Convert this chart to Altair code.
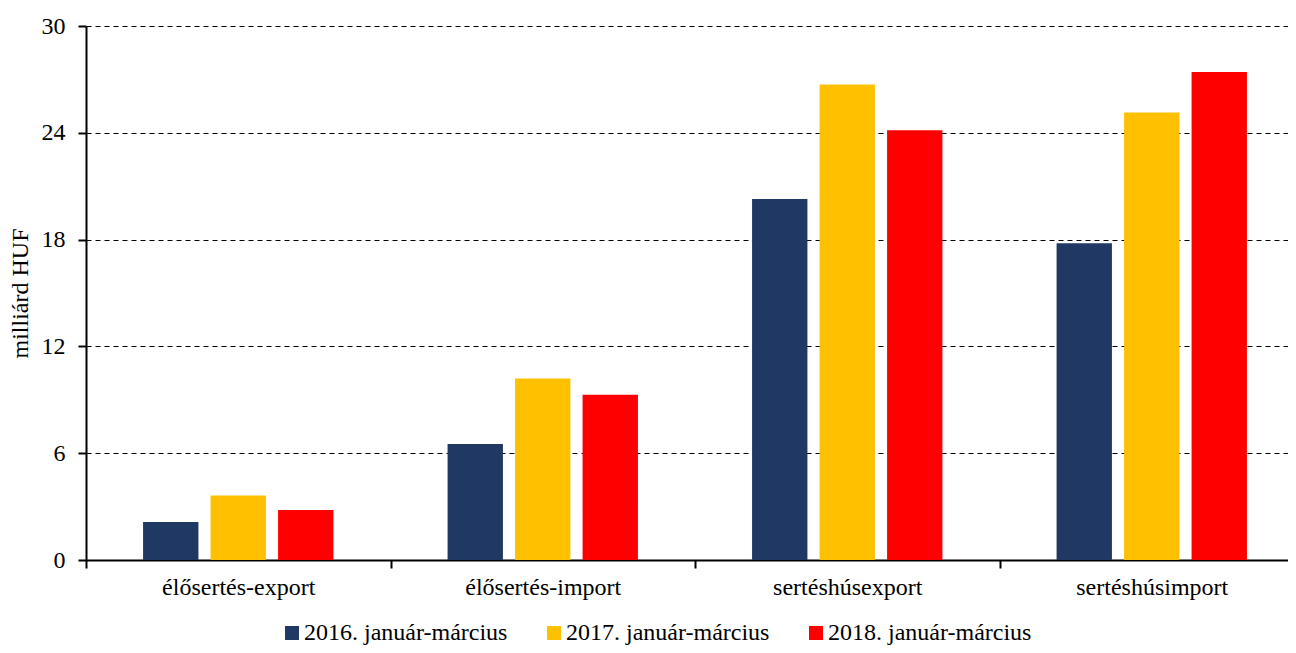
import altair as alt
import pandas as pd

categories = ["élősertés-export", "élősertés-import", "sertéshúsexport", "sertéshúsimport"]
series = ["2016. január-március", "2017. január-március", "2018. január-március"]
v2016 = [2.14, 6.52, 20.28, 17.80]
v2017 = [3.63, 10.19, 26.72, 25.14]
v2018 = [2.81, 9.29, 24.14, 27.42]
colors = ["#203864", "#FFC000", "#FF0000"]
y_ticks = [0, 6, 12, 18, 24, 30]

rows = []
for s, vals in zip(series, [v2016, v2017, v2018]):
    for c, v in zip(categories, vals):
        rows.append({"kategória": c, "időszak": s, "érték": v})
df = pd.DataFrame(rows)

FONT = "Liberation Serif"
FS = 24

chart = alt.Chart(df).mark_bar().encode(
    x=alt.X("kategória:N", sort=categories,
            scale=alt.Scale(paddingInner=0, paddingOuter=0, range=[0, 1218]),
            axis=alt.Axis(title=None, labelAngle=0, tickBand="extent", grid=False,
                          domainColor="black", domainWidth=2, tickColor="black",
                          tickWidth=2, tickSize=8, labelPadding=7,
                          labelFont=FONT, labelFontSize=FS, labelColor="black")),
    xOffset=alt.XOffset("időszak:N", sort=series,
                        scale=alt.Scale(paddingInner=0.18, paddingOuter=0.8456)),
    y=alt.Y("érték:Q", scale=alt.Scale(domain=[0, 30], nice=False),
            axis=alt.Axis(title="milliárd HUF", values=y_ticks, grid=True,
                          gridColor="black", gridDash=[5, 4], gridWidth=1,
                          domainColor="black", domainWidth=2, tickColor="black",
                          tickWidth=2, tickSize=8, labelPadding=13,
                          labelFont=FONT, labelFontSize=FS, labelColor="black",
                          titleFont=FONT, titleFontSize=FS, titleFontWeight="normal",
                          titleColor="black", titlePadding=9)),
    color=alt.Color("időszak:N", sort=series,
                    scale=alt.Scale(domain=series, range=colors),
                    legend=alt.Legend(title=None, orient="none", legendX=194, legendY=595,
                                      direction="horizontal", symbolType="square",
                                      symbolSize=196, symbolStrokeWidth=0,
                                      labelOffset=0, columnPadding=34, padding=0,
                                      labelFont=FONT, labelFontSize=FS,
                                      labelColor="black", labelLimit=0)),
).properties(
    width=1202, height=534,
    autosize=alt.AutoSizeParams(type="none"),
    padding={"left": 78, "top": 18, "right": 0, "bottom": 85},
).configure_view(stroke=None)

chart.save("out.html", embed_options={"renderer": "svg", "actions": False})
